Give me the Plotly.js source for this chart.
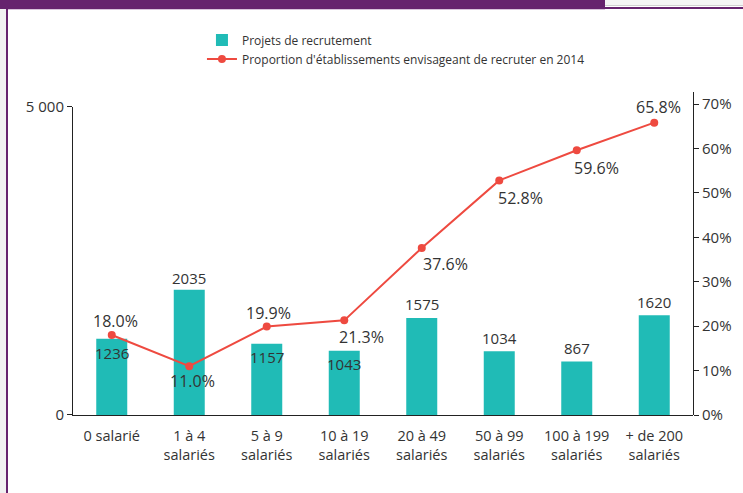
<!DOCTYPE html>
<html>
<head>
<meta charset="utf-8">
<script src="https://cdn.plot.ly/plotly-3.0.1.min.js"></script>
<style>
  html, body { margin: 0; padding: 0; background: #ffffff; }
  #wrap { position: relative; width: 743px; height: 493px; overflow: hidden; }
  #chart { position: absolute; left: 0; top: 0; width: 743px; height: 493px; }
  .deco { position: absolute; }
</style>
</head>
<body>
<div id="wrap">
  <div class="deco" style="left:0;top:0;width:6px;height:493px;background:#f1f1f1;"></div>
  <div class="deco" style="left:6px;top:0;width:2px;height:493px;background:#66236e;"></div>
  <div class="deco" style="left:0;top:0;width:605px;height:9px;background:#66236e;"></div>
  <div class="deco" style="left:8px;top:9px;width:597px;height:1px;background:#d8c3db;"></div>
  <div class="deco" style="left:605px;top:0;width:138px;height:5px;background:#f4f4f4;border-bottom:1px solid #d0d0d0;"></div>
  <div class="deco" style="left:605px;top:7px;width:138px;height:2px;background:#66236e;"></div>
  <div id="chart"></div>
</div>
<script>
var categories = ['0 salarié', '1 à 4<br>salariés', '5 à 9<br>salariés', '10 à 19<br>salariés',
                  '20 à 49<br>salariés', '50 à 99<br>salariés', '100 à 199<br>salariés', '+ de 200<br>salariés'];
var projets = [1236, 2035, 1157, 1043, 1575, 1034, 867, 1620];
var proportion = [0.180, 0.110, 0.199, 0.213, 0.376, 0.528, 0.596, 0.658];
var projetsLabels = ['1236', '2035', '1157', '1043', '1575', '1034', '867', '1620'];
var proportionLabels = ['18.0%', '11.0%', '19.9%', '21.3%', '37.6%', '52.8%', '59.6%', '65.8%'];
var leftTickVals = [0, 5000];
var leftTickText = ['0', '5 000'];
var rightTickVals = [0, 0.1, 0.2, 0.3, 0.4, 0.5, 0.6, 0.7];
var rightTickText = ['0%', '10%', '20%', '30%', '40%', '50%', '60%', '70%'];

// label offsets in pixels (style only)
var projetsLabelShiftY = [-14, 12, -13, -13, 14, 13, 14, 13];
var proportionLabelShiftX = [4, 3, 2, 17, 24, 21, 20, 4];
var proportionLabelShiftY = [14, -15, 14, -17, -16, -18, -18, 16];

var FONT = '"Open Sans", "Noto Sans", sans-serif';
var TXT = '#333333';

var traces = [
  {
    type: 'bar', name: 'Projets de recrutement',
    x: categories, y: projets, xaxis: 'x', yaxis: 'y',
    marker: { color: '#20bbb6' }, hoverinfo: 'skip'
  },
  {
    type: 'scatter', mode: 'lines+markers',
    name: "Proportion d'établissements envisageant de recruter en 2014",
    x: categories, y: proportion, xaxis: 'x', yaxis: 'y2',
    line: { color: '#ee4a40', width: 2 },
    marker: { color: '#ee4a40', size: 8 },
    cliponaxis: false, hoverinfo: 'skip'
  }
];

var annotations = [];
categories.forEach(function (c, i) {
  annotations.push({
    xref: 'x', yref: 'y', x: c, y: projets[i],
    text: projetsLabels[i], showarrow: false,
    xanchor: 'center', yanchor: 'middle', yshift: projetsLabelShiftY[i],
    font: { family: FONT, size: 15, color: TXT }
  });
  annotations.push({
    xref: 'x', yref: 'y2', x: c, y: proportion[i],
    text: proportionLabels[i], showarrow: false,
    xanchor: 'center', yanchor: 'middle',
    xshift: proportionLabelShiftX[i], yshift: proportionLabelShiftY[i],
    font: { family: FONT, size: 16, color: TXT }
  });
});

var layout = {
  width: 743, height: 493,
  margin: { l: 73, r: 50, t: 92, b: 78, pad: 0 },
  paper_bgcolor: 'rgba(0,0,0,0)',
  plot_bgcolor: 'rgba(0,0,0,0)',
  font: { family: FONT, size: 14, color: TXT },
  bargap: 0.6,
  showlegend: true,
  legend: {
    x: 0.208, xanchor: 'left', y: 1.206, yanchor: 'top',
    orientation: 'v', bgcolor: 'rgba(0,0,0,0)',
    font: { family: FONT, size: 12, color: TXT },
    tracegroupgap: 0
  },
  annotations: annotations,
  xaxis: {
    anchor: 'y', domain: [0, 1],
    showline: true, linecolor: '#222', linewidth: 1,
    ticks: '', showgrid: false, zeroline: false,
    ticklabelstandoff: 8,
    tickfont: { family: FONT, size: 14.5, color: TXT },
    fixedrange: true
  },
  yaxis: {
    anchor: 'x', domain: [0, 0.9536], range: [0, 5000],
    showline: true, linecolor: '#222', linewidth: 1,
    ticks: 'outside', ticklen: 5, tickcolor: '#222',
    tickvals: leftTickVals, ticktext: leftTickText,
    showgrid: false, zeroline: false,
    tickfont: { family: FONT, size: 15, color: TXT },
    fixedrange: true
  },
  yaxis2: {
    anchor: 'x', side: 'right', domain: [0, 1], range: [0, 0.727],
    showline: true, linecolor: '#222', linewidth: 1,
    ticks: 'outside', ticklen: 5, tickcolor: '#222',
    tickvals: rightTickVals, ticktext: rightTickText,
    showgrid: false, zeroline: false,
    tickfont: { family: FONT, size: 15, color: TXT },
    fixedrange: true
  }
};

Plotly.newPlot('chart', traces, layout, { displayModeBar: false, staticPlot: true });
</script>
</body>
</html>
